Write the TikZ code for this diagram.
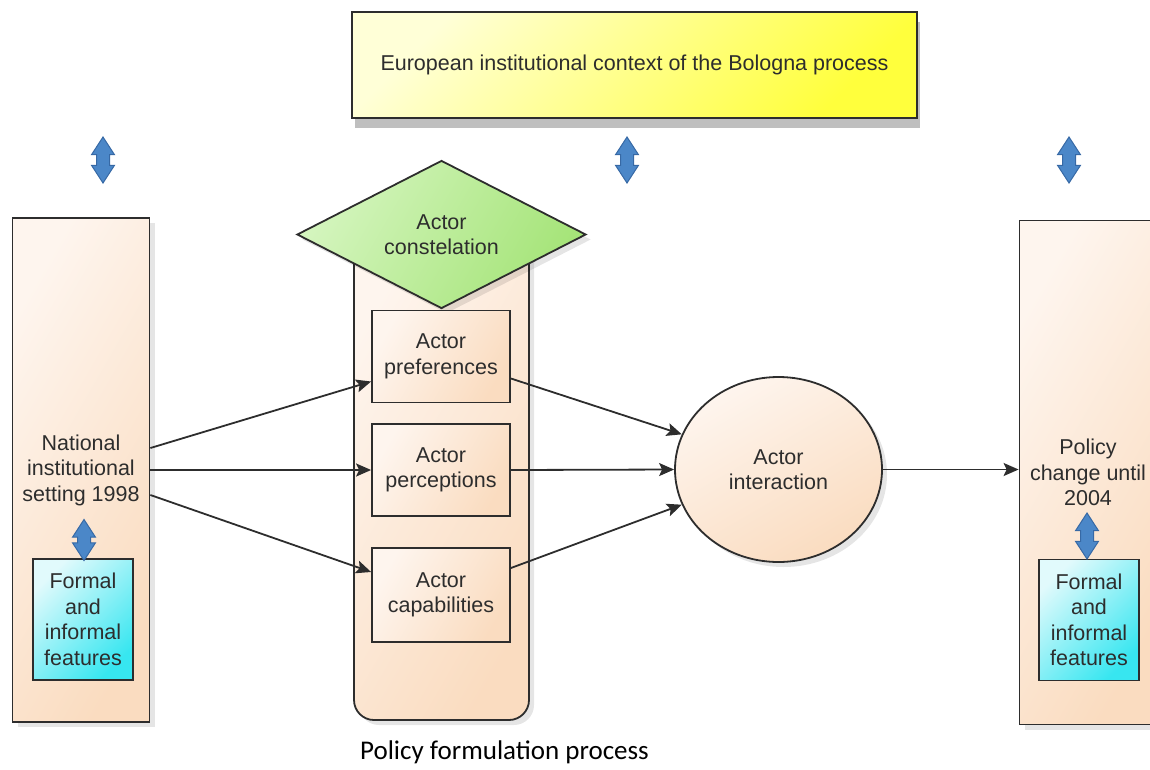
\documentclass[tikz,border=0pt]{standalone}
\usepackage{fontspec}
\setmainfont{Liberation Sans}
\newfontfamily\captionfont{Carlito}
\usetikzlibrary{shapes.geometric,shapes.arrows,shadows,arrows.meta}

\definecolor{linegray}{RGB}{45,45,45}
\definecolor{textgray}{RGB}{45,45,45}
\definecolor{peach}{RGB}{250,220,192}
\definecolor{peachlight}{RGB}{254,245,238}
\definecolor{ctxyellow}{RGB}{255,255,60}
\definecolor{ctxpale}{RGB}{255,255,215}
\definecolor{constgreen}{RGB}{165,228,120}
\definecolor{constpale}{RGB}{212,245,190}
\definecolor{featcyan}{RGB}{55,230,240}
\definecolor{featpale}{RGB}{225,250,252}
\definecolor{linkblue}{RGB}{75,135,200}
\definecolor{linkedge}{RGB}{55,105,165}

\tikzset{
  softshadow/.style={drop shadow={shadow xshift=5pt, shadow yshift=-5pt, opacity=0.1, fill=black}},
  ctxbox/.style={draw=linegray, line width=1.8pt, top color=ctxpale, bottom color=ctxyellow,
    shading angle=45, drop shadow={shadow xshift=3pt, shadow yshift=-10pt, opacity=0.25, fill=black},
    minimum width=565, minimum height=106},
  sidebox/.style={draw=linegray, line width=1.8pt, top color=peachlight, bottom color=peach,
    shading angle=60, softshadow, align=center, minimum width=137, minimum height=504},
  column/.style={draw=linegray, line width=1.8pt, top color=peachlight, bottom color=peach,
    shading angle=60, rounded corners=20pt, softshadow, minimum width=175, minimum height=485},
  actbox/.style={draw=linegray, line width=1.8pt, top color=peachlight, bottom color=peach,
    shading angle=60, align=center, minimum width=138, minimum height=92},
  constbox/.style={diamond, aspect=2, draw=linegray, line width=1.8pt, top color=constpale,
    bottom color=constgreen, shading angle=60, softshadow, align=center, inner sep=0pt,
    minimum width=289, minimum height=148},
  interbox/.style={ellipse, draw=linegray, line width=1.8pt, top color=peachlight, bottom color=peach,
    shading angle=30, softshadow, align=center, minimum width=207, minimum height=185},
  featbox/.style={draw=linegray, line width=1.8pt, top color=featpale, bottom color=featcyan,
    shading angle=45, align=center, inner sep=0pt, minimum width=100, minimum height=121},
  updown/.style={double arrow, rotate=90, draw=linkedge, line width=1pt, fill=linkblue,
    inner xsep=0pt, inner ysep=6pt, double arrow head extend=5pt, double arrow tip angle=66,
    minimum height=46},
  conn/.style={draw=linegray, line width=1.8pt, -{Stealth[length=15pt, width=13pt, inset=3pt]}}
}

\begin{document}
\begin{tikzpicture}[x=1pt, y=-1pt, font=\fontsize{21.5}{25.5}\selectfont, text=textgray]
  \useasboundingbox (0,0) rectangle (1150,769);

  % Draw the European context
  \node[ctxbox] (euro) at (634.5,65) {European institutional context of the Bologna process};

  % Draw the national setting and the policy change
  \node[sidebox] (natl) at (81,470) {National\\institutional\\setting 1998};
  \node[sidebox] (pol) at (1088,472.5) {Policy\\change until\\2004};
  \node[featbox] (featl) at (83,619.5) {Formal\\and\\informal\\features};
  \node[featbox] (featr) at (1089,620) {Formal\\and\\informal\\features};

  % Policy formulation process
  \node[column] (form) at (441.5,477.5) {};
  \node[constbox] (const) at (441.5,234.5) {Actor\\constelation};
  \node[actbox] (pref) at (441,356.5) {Actor\\preferences};
  \node[actbox] (perc) at (441,470) {Actor\\perceptions};
  \node[actbox, minimum height=94] (capa) at (441,595) {Actor\\capabilities};
  \node[font=\captionfont\fontsize{27}{30}\selectfont, text=black] (caption) at (504.5,752) {Policy formulation process};

  % Actor interaction
  \node[interbox] (inter) at (778.5,469.5) {Actor\\interaction};

  % Add the links between the levels
  \foreach \x/\name in {103/linkl, 627/linkm, 1069/linkr} {
    \node[updown] (\name) at (\x,160) {};
  }
  \node[updown, minimum height=41] (innl) at (84,540) {};
  \node[updown, minimum height=46] (innr) at (1087,536) {};

  % Draw the connectors
  \draw[conn] ([yshift=22pt]natl.east) -- ([yshift=-25pt]pref.west);
  \draw[conn] (natl.east) -- (perc.west);
  \draw[conn] ([yshift=-25pt]natl.east) -- ([yshift=23pt]capa.west);
  \draw[conn] ([yshift=-22pt]pref.east) -- (inter.160);
  \draw[conn] (perc.east) -- (inter.west);
  \draw[conn] ([yshift=27pt]capa.east) -- (inter.200);
  \draw[conn] (inter.east) -- (inter.east -| pol.west);
\end{tikzpicture}
\end{document}
